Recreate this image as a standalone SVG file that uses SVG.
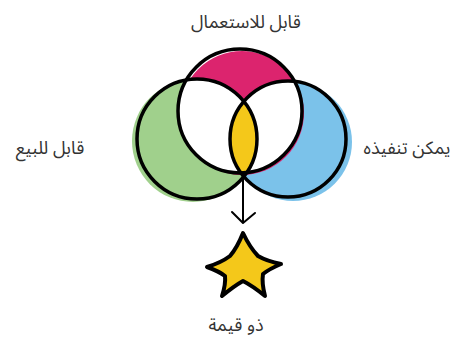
<svg xmlns="http://www.w3.org/2000/svg" width="455" height="344" viewBox="0 0 455 344">
<style>
.lbl{font-family:"Noto Sans Arabic","Noto Sans","DejaVu Sans",sans-serif;font-size:18px;fill:#333;text-anchor:middle}
.ol{fill:none;stroke:#000;stroke-width:3.5}
</style>
<defs>
<clipPath id="clipT"><circle cx="240" cy="111" r="62"/></clipPath>
<clipPath id="clipL"><circle cx="197" cy="139" r="60"/></clipPath>
</defs>
<g id="venn-fills">
<circle cx="193" cy="141" r="61" fill="#A0D08C"/>
<circle cx="293" cy="142" r="59" fill="#7BC2EA"/>
<circle cx="242" cy="113" r="62" fill="#DC246E"/>
<g clip-path="url(#clipT)" fill="#fff">
<circle cx="197" cy="139" r="60"/>
<circle cx="288" cy="139" r="58"/>
</g>
<g clip-path="url(#clipL)">
<circle cx="288" cy="139" r="58" fill="#F4C81A"/>
</g>
</g>
<g id="node-usable">
<circle class="ol" cx="240" cy="111" r="62"/>
<text class="lbl" x="246" y="28">قابل للاستعمال</text>
</g>
<g id="node-sellable">
<circle class="ol" cx="197" cy="139" r="60"/>
<text class="lbl" x="50" y="154">قابل للبيع</text>
</g>
<g id="node-feasible">
<circle class="ol" cx="288" cy="139" r="58"/>
<text class="lbl" x="407" y="154">يمكن تنفيذه</text>
</g>
<g id="connectors">
<line x1="243" y1="178" x2="243" y2="222" stroke="#000" stroke-width="2"/>
<polyline points="232,212 243,223 255,213" fill="none" stroke="#000" stroke-width="2" stroke-linecap="round" stroke-linejoin="round"/>
</g>
<g id="node-valuable">
<path d="M243,233 Q249.8,247.4 258,256 Q266.7,261.1 281,264 Q269,269.1 263,274 Q261.6,283.2 265,296 Q252.6,285.9 243,281 Q234.1,286 222,296 Q225.9,284.1 225,276 Q219,271.3 207,267 Q221.4,262.5 230,256 Q237.3,247.4 243,233 Z" fill="#F4C81A" stroke="#000" stroke-width="4" stroke-linejoin="round"/>
<text class="lbl" x="236" y="331">ذو قيمة</text>
</g>
</svg>
